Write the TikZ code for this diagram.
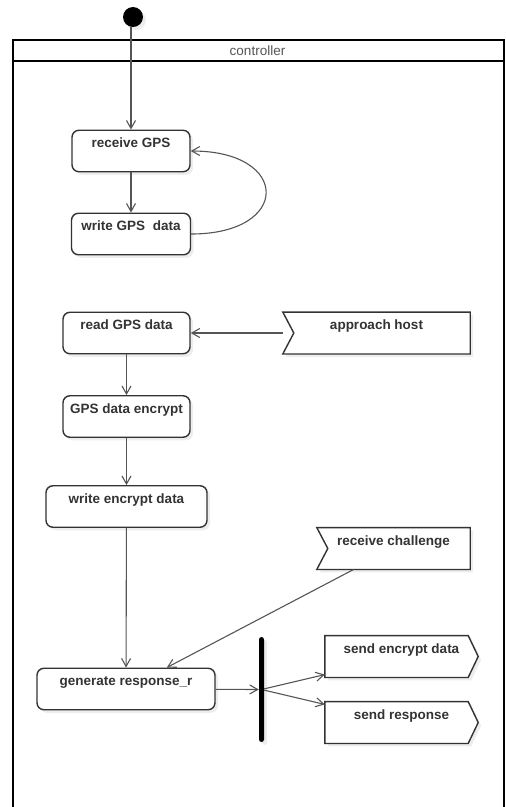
\documentclass[tikz,border=0pt]{standalone}
\usepackage{fontspec}
\setmainfont{Liberation Sans}
\usetikzlibrary{calc,arrows.meta,shadows}
\pgfdeclarelayer{bg}
\pgfsetlayers{bg,main}
\definecolor{boxline}{HTML}{333333}
\definecolor{arrline}{HTML}{555555}
\tikzset{
	shade3/.style={drop shadow={shadow xshift=3pt,shadow yshift=-3pt,fill=black!14}},
	act/.style={draw=boxline,line width=1.4pt,fill=white,rounded corners=7pt,inner sep=0pt,
		text height=17.5pt,text depth=24pt,font=\bfseries\fontsize{13.5}{16}\selectfont,text=boxline,shade3},
	sig/.style={inner sep=0pt,text height=17.5pt,text depth=24pt,
		font=\bfseries\fontsize{13.5}{16}\selectfont,text=boxline},
	sigline/.style={draw=boxline,line width=1.4pt,fill=white,shade3},
	flow/.style={draw=arrline,line width=1.1pt,-{Straight Barb[length=8pt,width=9pt]}},
	lanebox/.style={draw=black,line width=2pt,inner sep=0pt},
}
\def\recvsig#1{\begin{pgfonlayer}{bg}\draw[sigline] (#1.north west) -- (#1.north east) -- (#1.south east) -- (#1.south west) -- ($(#1.west)+(11,0)$) -- cycle;\end{pgfonlayer}}
\def\sendsig#1{\begin{pgfonlayer}{bg}\draw[sigline] (#1.north west) -- ($(#1.north east)+(-10,0)$) -- (#1.east) -- ($(#1.south east)+(-10,0)$) -- (#1.south west) -- cycle;\end{pgfonlayer}}

\begin{document}
\begin{tikzpicture}[x=1pt,y=-1pt]
				%%%%% START %%%%%
				\useasboundingbox (0,0) rectangle (506,807);
				\def\colx{126.5}

				\node[lanebox,minimum width=491,minimum height=780,anchor=north west] (lane) at (12,39) {};
				\draw[line width=2pt] (12,61) -- (503,61);
				\node[font=\fontsize{13.5}{16}\selectfont,text=arrline] (title) at (257.5,50.5) {controller};

				\node[circle,fill=black,minimum size=20,inner sep=0pt,shade3] (start) at (133,17) {};

				\node[act,minimum width=118] (rgps) at (131,151) {receive GPS};
				\node[act,minimum width=119] (wgps) at (131,234) {write GPS~ data};

				\node[act,minimum width=127] (rgpsd) at (\colx,333) {read GPS data};
				\node[act,minimum width=127] (genc) at (\colx,416.5) {GPS data encrypt};
				\node[act,minimum width=161] (wenc) at (\colx,506.5) {write encrypt data};
				\node[act,minimum width=178] (genr) at (126,689) {generate response\_r};

				\node[sig,minimum width=187] (ahost) at (376.5,333) {approach host};
				\recvsig{ahost}
				\node[sig,minimum width=153] (rchal) at (393.5,548.5) {receive challenge};
				\recvsig{rchal}

				\node[rectangle,fill=black,rounded corners=2.5pt,minimum width=5,minimum height=105,inner sep=0pt,shade3] (fork) at (261.5,689.5) {};

				\node[sig,minimum width=153] (senc) at (401.5,656.5) {send encrypt data};
				\sendsig{senc}
				\node[sig,minimum width=153] (sresp) at (401.5,722.5) {send response};
				\sendsig{sresp}

				\draw[flow] (start.south -| rgps.north) -- (rgps.north);
				\draw[flow] (rgps) -- (wgps);
				\draw[flow] (wgps.east) .. controls +(100,0) and +(100,0) .. (rgps.east);
				\draw[flow] (ahost) -- (rgpsd);
				\draw[flow] (rgpsd) -- (genc);
				\draw[flow] (genc) -- (wenc);
				\draw[flow] (wenc) -- (genr);
				\draw[flow] (rchal) -- (genr);
				\draw[flow] (genr) -- (fork);
				\draw[flow] (fork) -- (senc);
				\draw[flow] (fork) -- (sresp);
				%%%%% START %%%%%
\end{tikzpicture}
\end{document}
